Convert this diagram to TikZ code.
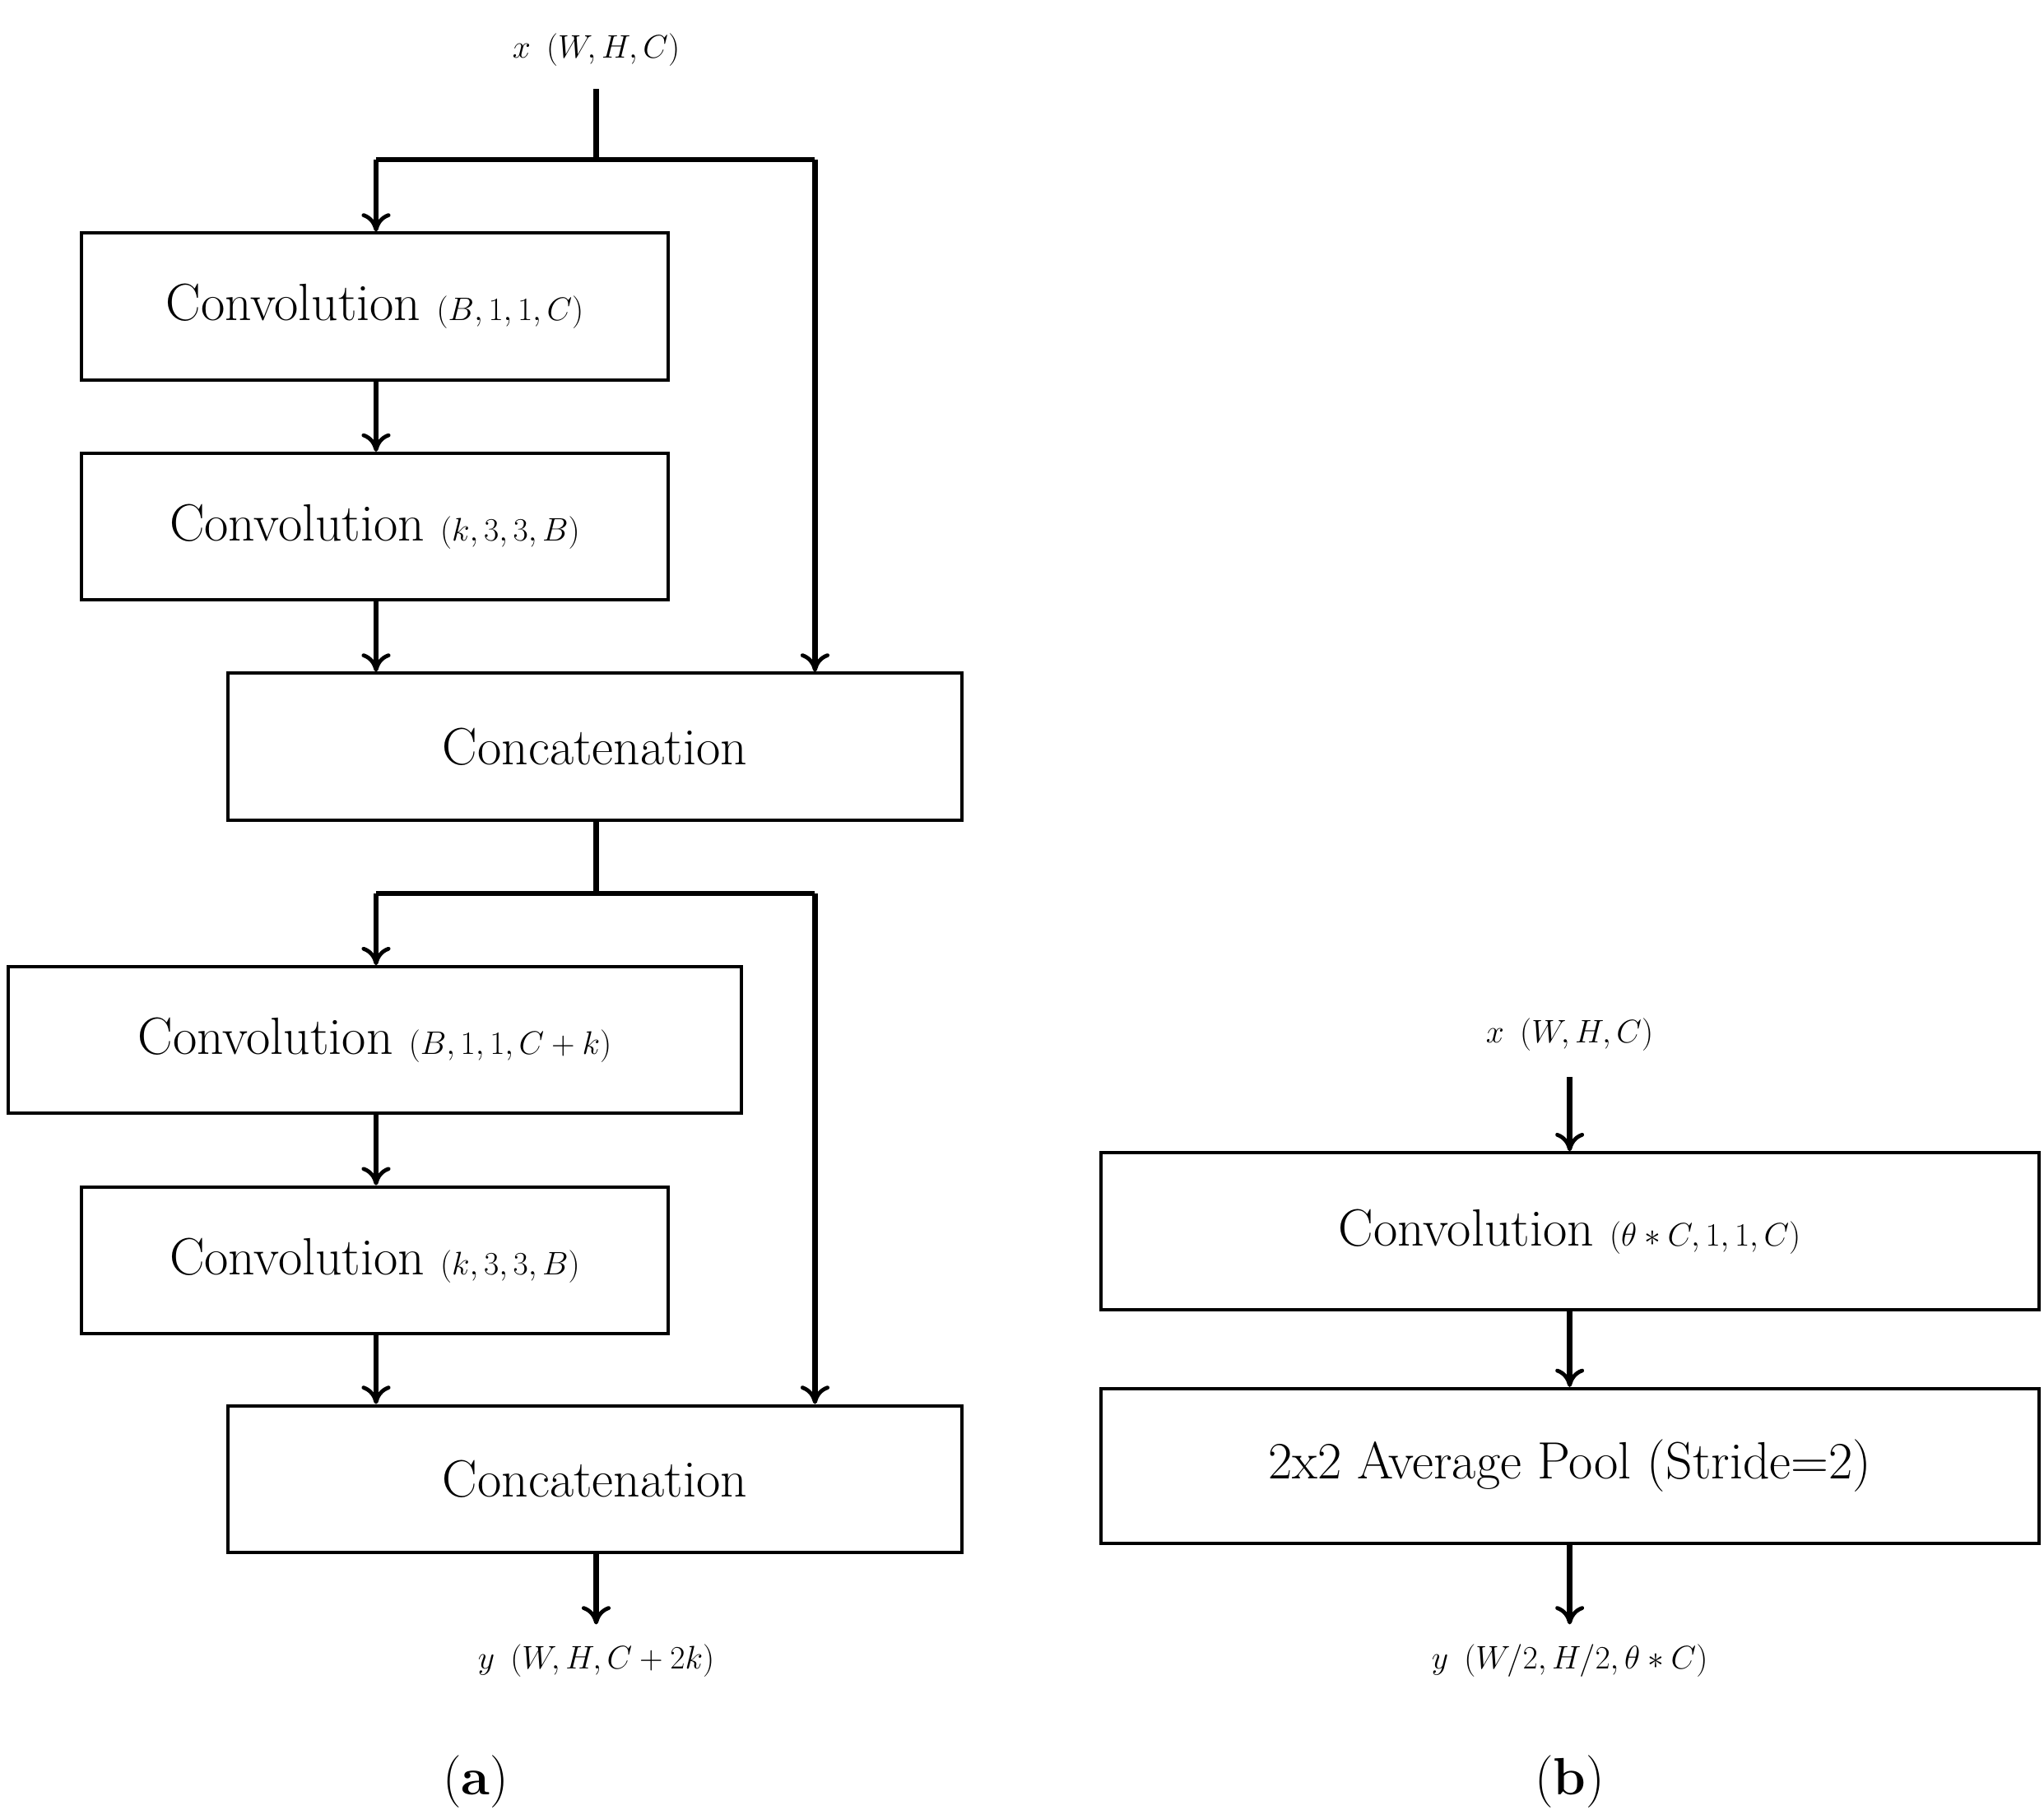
\documentclass[tikz,border=0pt]{standalone}
\usetikzlibrary{arrows.meta}
\begin{document}
\begin{tikzpicture}[x=1pt,y=-1pt,
  box/.style={draw,line width=2.5pt,inner sep=0pt,font=\fontsize{40}{48}\selectfont},
  lbl/.style={inner sep=0pt,font=\fontsize{40}{48}\selectfont},
  ln/.style={line width=4pt},
  ar/.style={ln,-{To[length=14pt,width=22pt,line width=3pt]}}]
\useasboundingbox (0,0) rectangle (1560,1388);
\node[lbl] (xa) at (455,38) {$x\ (W,H,C)$};
\node[box,minimum width=448pt,minimum height=112pt] (b1) at (286,234) {Convolution $(B,1,1,C)$};
\node[box,minimum width=448pt,minimum height=112pt] (b2) at (286,402) {Convolution $(k,3,3,B)$};
\node[box,minimum width=560pt,minimum height=112pt] (c1) at (454,570) {Concatenation};
\node[box,minimum width=560pt,minimum height=112pt] (b3) at (286,794) {Convolution $(B,1,1,C+k)$};
\node[box,minimum width=448pt,minimum height=112pt] (b4) at (286,962) {Convolution $(k,3,3,B)$};
\node[box,minimum width=560pt,minimum height=112pt] (c2) at (454,1129) {Concatenation};
\node[lbl] (ya) at (455,1268) {$y\ (W,H,C+2k)$};
\node[lbl] (la) at (363,1360) {(\textbf{a})};
\coordinate (s1) at (455,122);
\coordinate (s1l) at (287,122);
\coordinate (s1r) at (622,122);
\coordinate (s2) at (455,682);
\coordinate (s2l) at (287,682);
\coordinate (s2r) at (622,682);
\draw[ln] (455,68) -- (s1);
\draw[ln] (s1l) -- (s1r);
\draw[ar] (s1l) -- (b1.north -| s1l);
\draw[ar] (s1r) -- (c1.north -| s1r);
\draw[ar] (b1.south -| s1l) -- (b2.north -| s1l);
\draw[ar] (b2.south -| s1l) -- (c1.north -| s1l);
\draw[ln] (c1.south -| s2) -- (s2);
\draw[ln] (s2l) -- (s2r);
\draw[ar] (s2l) -- (b3.north -| s2l);
\draw[ar] (s2r) -- (c2.north -| s2r);
\draw[ar] (b3.south -| s2l) -- (b4.north -| s2l);
\draw[ar] (b4.south -| s2l) -- (c2.north -| s2l);
\draw[ar] (c2.south -| s2) -- (455,1240);
% (b)
\node[lbl] (xb) at (1198,790) {$x\ (W,H,C)$};
\node[box,minimum width=716pt,minimum height=120pt] (d1) at (1198,940) {Convolution $(\theta*C,1,1,C)$};
\node[box,minimum width=716pt,minimum height=118pt] (d2) at (1198,1119) {2x2 Average Pool (Stride=2)};
\node[lbl] (yb) at (1198,1268) {$y\ (W/2,H/2,\theta*C)$};
\node[lbl] (lb) at (1198,1360) {(\textbf{b})};
\draw[ar] (1198,822) -- (d1.north);
\draw[ar] (d1.south) -- (d2.north);
\draw[ar] (d2.south) -- (1198,1240);
\end{tikzpicture}
\end{document}
